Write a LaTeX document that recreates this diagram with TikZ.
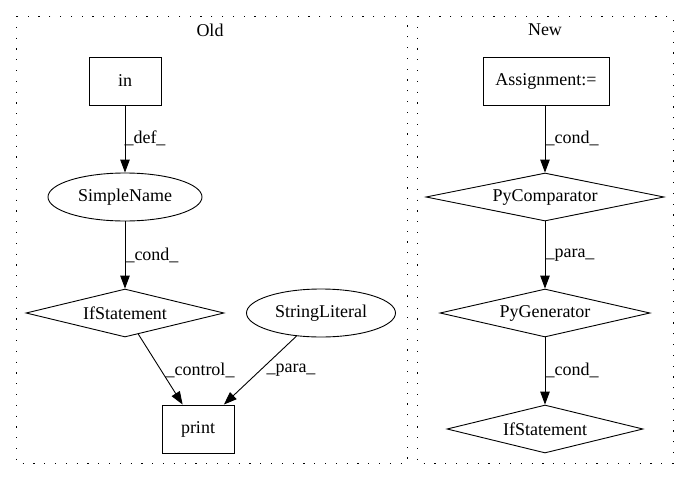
\documentclass[tikz,border=0pt]{standalone}
\usepackage{fontspec}
\setmainfont{Liberation Serif}
\usetikzlibrary{shapes.geometric,arrows.meta}
\begin{document}
\begin{tikzpicture}[x=1pt,y=-1pt,
  every node/.style={font=\fontsize{18pt}{21pt}\selectfont},
  boxnode/.style={draw,line width=0.9pt,rectangle,inner sep=0pt,minimum height=48pt},
  ellnode/.style={draw,line width=0.9pt,ellipse,inner sep=0pt,minimum height=48pt},
  dianode/.style={draw,line width=0.9pt,diamond,inner sep=0pt,minimum height=48pt,shape aspect=4},
  cluster/.style={draw,line width=1pt,dash pattern=on 1.2pt off 9.6pt},
  edge/.style={draw,line width=0.9pt,-{Triangle[length=13pt,width=9.5pt]}},
  elabel/.style={inner sep=0pt}]
\useasboundingbox (0,0) rectangle (689,480);
% clusters
\draw[cluster] (16,16) rectangle (407,463);
\draw[cluster] (417,16) rectangle (673,463);
\node (oldlbl) at (210,30) {Old};
\node (newlbl) at (545,30) {New};
% Old nodes
\node[boxnode,minimum width=72pt] (in) at (125,81) {in};
\node[ellnode,minimum width=154pt] (sn) at (125,197) {SimpleName};
\node[dianode,minimum width=198pt] (ifs) at (125,313) {IfStatement};
\node[ellnode,minimum width=149pt] (sl) at (321,313) {StringLiteral};
\node[boxnode,minimum width=72pt] (pr) at (198,429) {print};
% New nodes
\node[boxnode,minimum width=126pt] (as) at (546,81) {Assignment:=};
\node[dianode,minimum width=238pt] (pc) at (545,197) {PyComparator};
\node[dianode,minimum width=210pt] (pg) at (545,313) {PyGenerator};
\node[dianode,minimum width=196pt] (ifn) at (545,429) {IfStatement};
% Old edges
\draw[edge] (in) -- (sn);
\draw[edge] (sn) -- (ifs);
\draw[edge] (ifs) -- (pr);
\draw[edge] (sl) -- (pr);
\node[elabel] (l1) at (145,138) {\_def\_};
\node[elabel] (l2) at (152,255) {\_cond\_};
\node[elabel] (l3) at (200,370) {\_control\_};
\node[elabel] (l4) at (291,370) {\_para\_};
% New edges
\draw[edge] (as.south -| pc.north) -- (pc);
\draw[edge] (pc) -- (pg);
\draw[edge] (pg) -- (ifn);
\node[elabel] (l5) at (572,138) {\_cond\_};
\node[elabel] (l6) at (570,255) {\_para\_};
\node[elabel] (l7) at (572,370) {\_cond\_};
\end{tikzpicture}
\end{document}
